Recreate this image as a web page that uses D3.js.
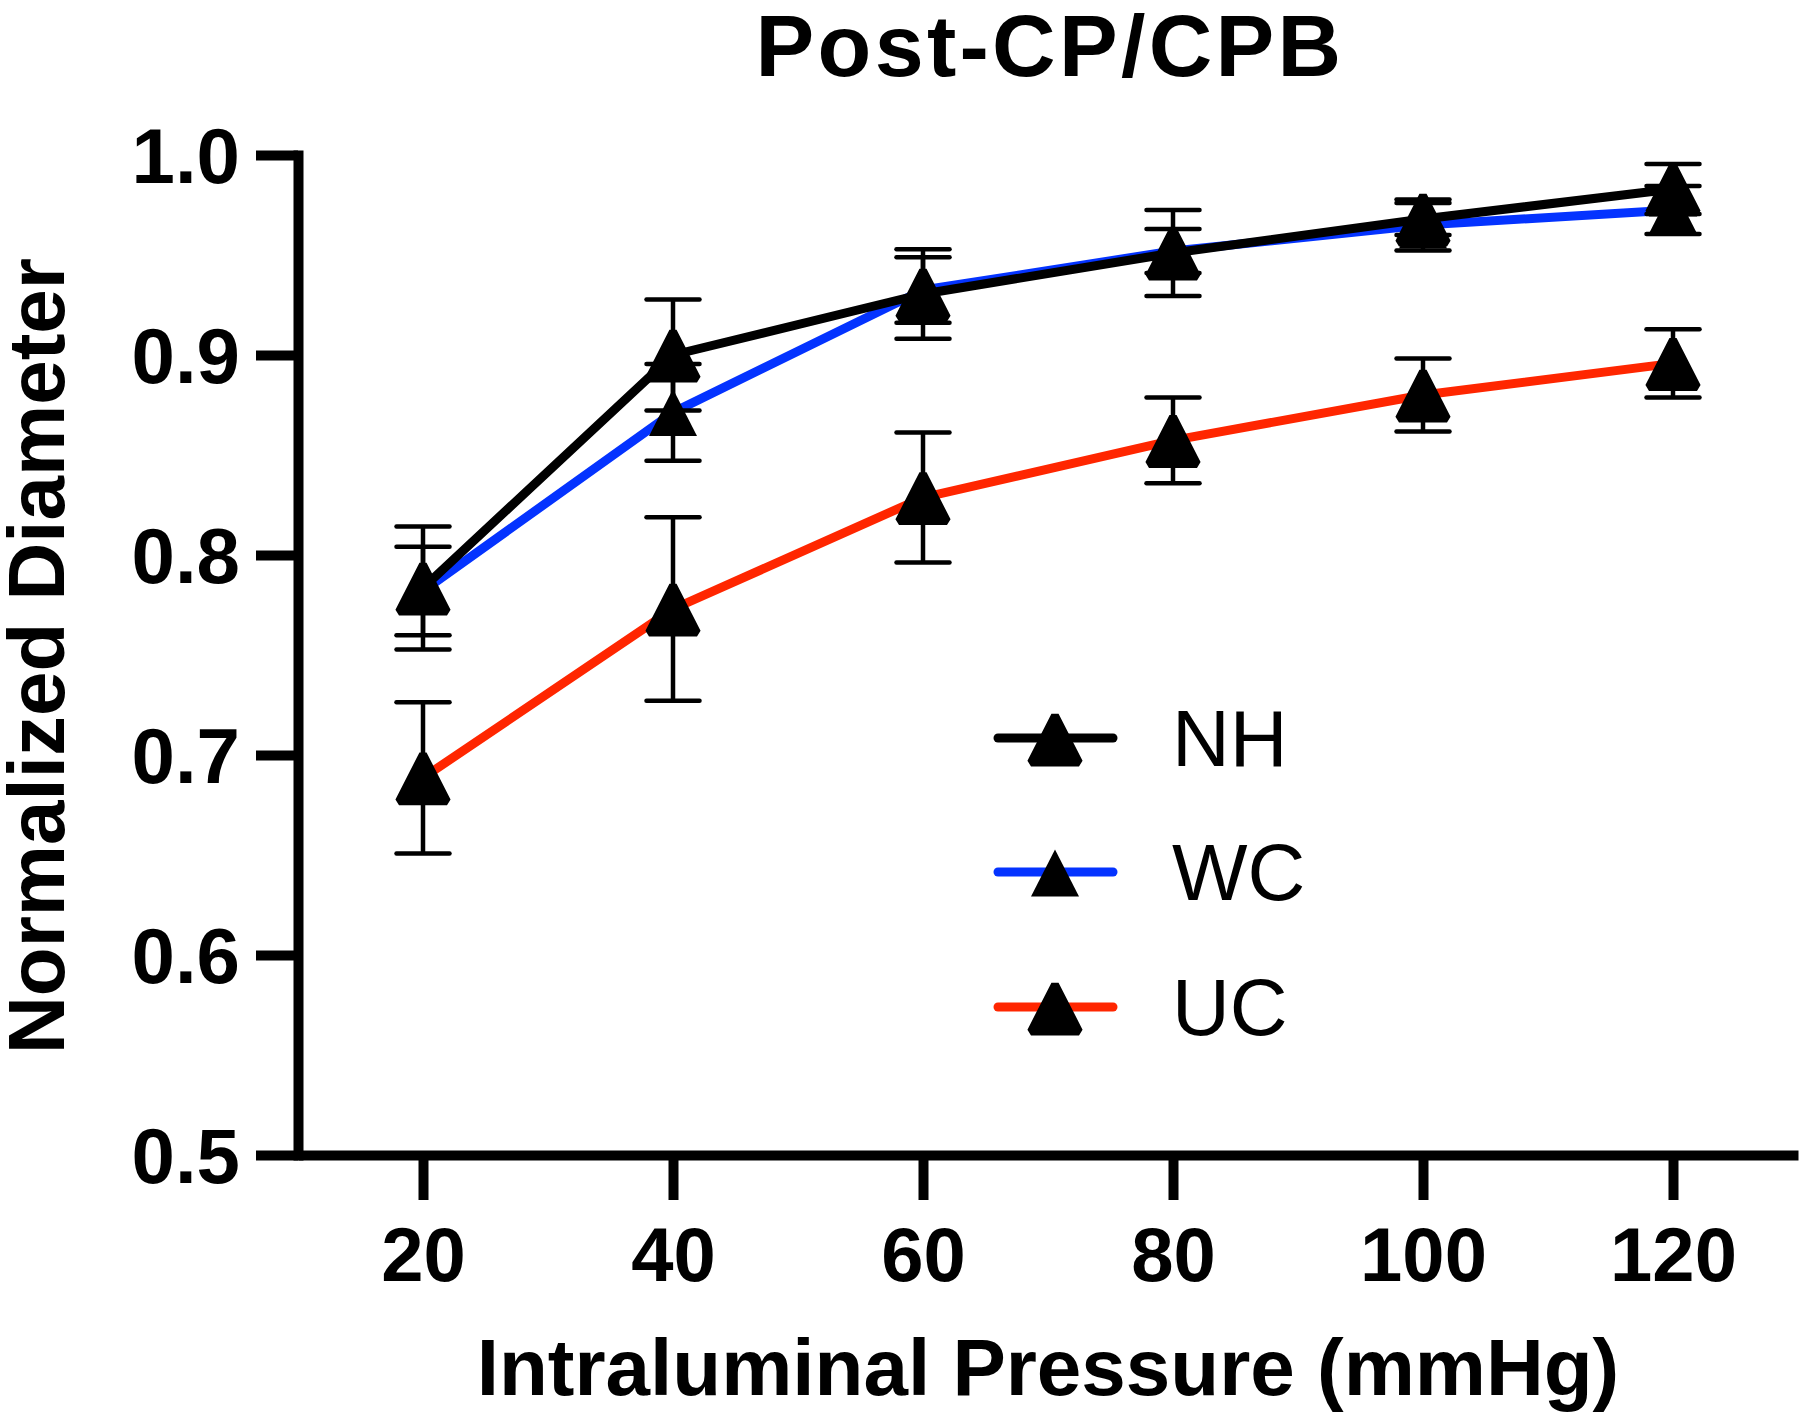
<!DOCTYPE html>
<html>
<head>
<meta charset="utf-8">
<script src="https://cdn.jsdelivr.net/npm/d3@7"></script>
<style>
  html, body { margin: 0; padding: 0; background: #fff; }
  svg { display: block; }
  text { font-family: "Liberation Sans", Arial, Helvetica, sans-serif; fill: #000; }
</style>
</head>
<body>
<script>
// ---------------- data ----------------
const pressures = [20, 40, 60, 80, 100, 120];
const nhMean = [0.7835, 0.900, 0.9305, 0.951, 0.968, 0.983];
const nhSem  = [0.0307, 0.0277, 0.0224, 0.0215, 0.008, 0.0125];
const wcMean = [0.782, 0.8713, 0.9325, 0.952, 0.965, 0.9725];
const wcSem  = [0.0221, 0.0242, 0.0164, 0.0110, 0.0127, 0.012];
const ucMean = [0.6886, 0.773, 0.8287, 0.8573, 0.880, 0.8958];
const ucSem  = [0.0378, 0.0459, 0.0325, 0.0214, 0.0183, 0.0171];
const yTicks = [0.5, 0.6, 0.7, 0.8, 0.9, 1.0];
const xTicks = pressures;
const seriesNames = ["NH", "WC", "UC"];
const titleText = "Post-CP/CPB";
const xLabel = "Intraluminal Pressure (mmHg)";
const yLabel = "Normalized Diameter";

// ---------------- styles ----------------
const colors = { NH: "#000000", WC: "#0433FF", UC: "#FF2600" };
const markerStroke = { NH: 8, WC: 0, UC: 8 };

const series = [
  { name: "UC", mean: ucMean, sem: ucSem },
  { name: "WC", mean: wcMean, sem: wcSem },
  { name: "NH", mean: nhMean, sem: nhSem }
];

const W = 1800, H = 1415;
const svg = d3.select("body").append("svg").attr("width", W).attr("height", H);

const x = d3.scaleLinear().domain([10, 130]).range([298, 1798]);
const y = d3.scaleLinear().domain([0.5, 1.0]).range([1155, 155]);

const FONT = '"Liberation Sans", Arial, Helvetica, sans-serif';

// ---------------- axes ----------------
const xAxis = svg.append("g")
  .attr("transform", `translate(0,${y(0.5)})`)
  .call(d3.axisBottom(x).tickValues(xTicks).tickSize(45).tickSizeOuter(0).tickPadding(27));
xAxis.select(".domain").attr("stroke", "#000").attr("stroke-width", 10).attr("stroke-linecap", "butt");
xAxis.selectAll(".tick line").attr("stroke", "#000").attr("stroke-width", 10);
xAxis.selectAll(".tick text").attr("font-size", 76).attr("font-weight", "bold").attr("font-family", FONT);

const yAxis = svg.append("g")
  .attr("transform", `translate(${x(10)},0)`)
  .call(d3.axisLeft(y).tickValues(yTicks).tickFormat(d3.format(".1f")).tickSize(42).tickSizeOuter(0).tickPadding(16));
yAxis.select(".domain").attr("stroke", "#000").attr("stroke-width", 10).attr("stroke-linecap", "square");
yAxis.selectAll(".tick line").attr("stroke", "#000").attr("stroke-width", 10);
yAxis.selectAll(".tick text").attr("font-size", 78).attr("font-weight", "bold").attr("font-family", FONT).attr("dy", "0.35em");
svg.selectAll(".tick text").attr("fill", "#000");

// ---------------- marker shape ----------------
function triangle(w, h) {
  const p = d3.path();
  p.moveTo(0, -h / 2);
  p.lineTo(w / 2, h / 2);
  p.lineTo(-w / 2, h / 2);
  p.closePath();
  return p.toString();
}
const TRI = triangle(48, 47);
const CAP = 26.5;

// ---------------- error bars & lines ----------------
const line = d3.line().x((d) => x(d.p)).y((d) => y(d.m));

series.forEach((s) => {
  const pts = pressures.map((p, i) => ({ p, m: s.mean[i], e: s.sem[i] }));
  const g = svg.append("g").attr("class", "series-" + s.name);
  const eb = g.append("g").attr("stroke", "#000").attr("stroke-width", 4.5).attr("stroke-linecap", "round");
  pts.forEach((d) => {
    eb.append("line").attr("x1", x(d.p)).attr("x2", x(d.p)).attr("y1", y(d.m - d.e)).attr("y2", y(d.m + d.e)).attr("stroke-linecap", "butt");
    eb.append("line").attr("x1", x(d.p) - CAP).attr("x2", x(d.p) + CAP).attr("y1", y(d.m + d.e)).attr("y2", y(d.m + d.e));
    eb.append("line").attr("x1", x(d.p) - CAP).attr("x2", x(d.p) + CAP).attr("y1", y(d.m - d.e)).attr("y2", y(d.m - d.e));
  });
  g.append("path").datum(pts).attr("d", line)
    .attr("fill", "none").attr("stroke", colors[s.name]).attr("stroke-width", 9)
    .attr("stroke-linejoin", "round").attr("stroke-linecap", "round");
});

// markers on top
series.forEach((s) => {
  svg.append("g").selectAll("path").data(pressures.map((p, i) => ({ p, m: s.mean[i] })))
    .join("path")
    .attr("d", TRI)
    .attr("transform", (d) => `translate(${x(d.p)},${y(d.m)})`)
    .attr("fill", "#000")
    .attr("stroke", markerStroke[s.name] ? "#000" : "none")
    .attr("stroke-width", markerStroke[s.name])
    .attr("stroke-linejoin", "bevel");
});

// ---------------- legend ----------------
const legendY = [738, 872, 1007];
const legend = svg.append("g");
seriesNames.forEach((name, i) => {
  const ly = legendY[i];
  legend.append("line").attr("x1", 998).attr("x2", 1113).attr("y1", ly).attr("y2", ly)
    .attr("stroke", colors[name]).attr("stroke-width", 9).attr("stroke-linecap", "round");
  legend.append("path").attr("d", TRI).attr("transform", `translate(1055,${ly + 1})`)
    .attr("fill", "#000")
    .attr("stroke", markerStroke[name] ? "#000" : "none")
    .attr("stroke-width", markerStroke[name])
    .attr("stroke-linejoin", "bevel");
  legend.append("text").attr("x", 1172).attr("y", ly + 28)
    .attr("font-size", 80).attr("font-family", FONT).text(name);
});

// ---------------- titles ----------------
svg.append("text").attr("x", 1050).attr("y", 76).attr("text-anchor", "middle")
  .attr("font-size", 88).attr("letter-spacing", 3.3).attr("font-weight", "bold").attr("font-family", FONT).text(titleText);

svg.append("text").attr("x", 1048).attr("y", 1395).attr("text-anchor", "middle")
  .attr("font-size", 80).attr("font-weight", "bold").attr("font-family", FONT).text(xLabel);

svg.append("text").attr("transform", "translate(64,656) rotate(-90)").attr("text-anchor", "middle")
  .attr("font-size", 80).attr("font-weight", "bold").attr("font-family", FONT).text(yLabel);
</script>
</body>
</html>
